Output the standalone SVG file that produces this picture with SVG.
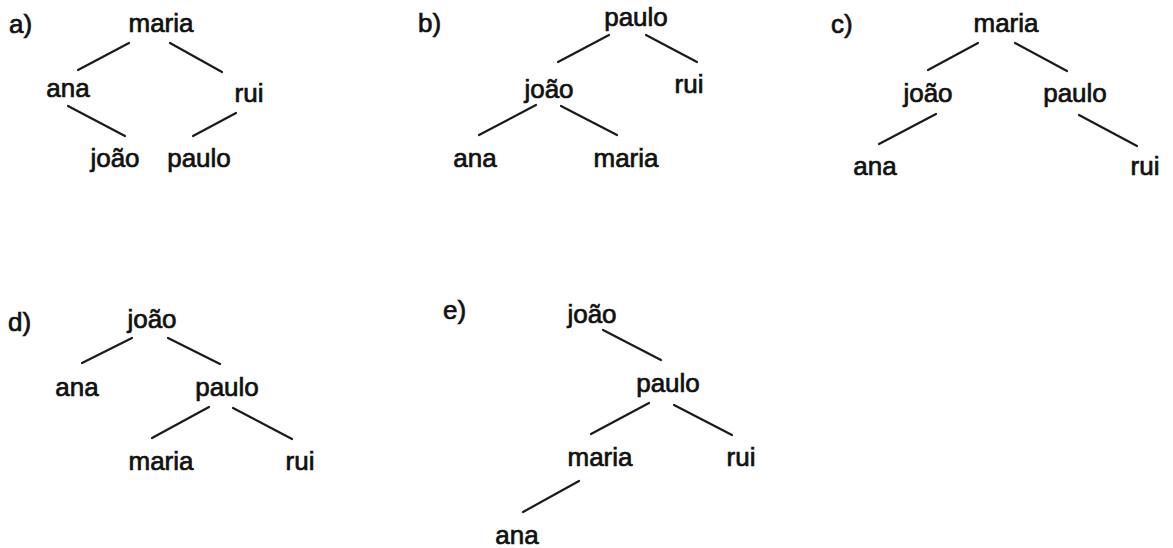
<svg xmlns="http://www.w3.org/2000/svg" width="1173" height="548" viewBox="0 0 1173 548">
  <style>
    text { font-family: "Liberation Sans", Arial, sans-serif; font-size: 26px; fill: #111; stroke: #111; stroke-width: 0.7px; }
    .n { text-anchor: middle; }
    .edges line { stroke: #1a1a1a; stroke-width: 2.2; stroke-linecap: round; }
  </style>
  <rect width="1173" height="548" fill="#ffffff"/>

  <!-- option labels -->
  <g id="labels">
    <text x="9" y="33">a)</text>
    <text x="418" y="32">b)</text>
    <text x="831" y="33">c)</text>
    <text x="8" y="331">d)</text>
    <text x="443" y="319">e)</text>
  </g>

  <!-- tree a -->
  <g id="a-maria"><text class="n" x="161" y="32">maria</text></g>
  <g id="a-ana"><text class="n" x="68" y="97">ana</text></g>
  <g id="a-rui"><text class="n" x="249" y="102">rui</text></g>
  <g id="a-joao"><text class="n" x="115" y="167">joão</text></g>
  <g id="a-paulo"><text class="n" x="199" y="167">paulo</text></g>

  <!-- tree b -->
  <g id="b-paulo"><text class="n" x="636" y="26">paulo</text></g>
  <g id="b-joao"><text class="n" x="549" y="98">joão</text></g>
  <g id="b-rui"><text class="n" x="689" y="93">rui</text></g>
  <g id="b-ana"><text class="n" x="475" y="167">ana</text></g>
  <g id="b-maria"><text class="n" x="626" y="167">maria</text></g>

  <!-- tree c -->
  <g id="c-maria"><text class="n" x="1006" y="32">maria</text></g>
  <g id="c-joao"><text class="n" x="928" y="102">joão</text></g>
  <g id="c-paulo"><text class="n" x="1075" y="102">paulo</text></g>
  <g id="c-ana"><text class="n" x="875" y="175">ana</text></g>
  <g id="c-rui"><text class="n" x="1145" y="175">rui</text></g>

  <!-- tree d -->
  <g id="d-joao"><text class="n" x="152" y="328">joão</text></g>
  <g id="d-ana"><text class="n" x="77" y="396">ana</text></g>
  <g id="d-paulo"><text class="n" x="227" y="396">paulo</text></g>
  <g id="d-maria"><text class="n" x="161" y="470">maria</text></g>
  <g id="d-rui"><text class="n" x="300" y="470">rui</text></g>

  <!-- tree e -->
  <g id="e-joao"><text class="n" x="592" y="323">joão</text></g>
  <g id="e-paulo"><text class="n" x="668" y="392">paulo</text></g>
  <g id="e-maria"><text class="n" x="600" y="466">maria</text></g>
  <g id="e-rui"><text class="n" x="741" y="466">rui</text></g>
  <g id="e-ana"><text class="n" x="517" y="544">ana</text></g>

  <!-- edges -->
  <g class="edges">
    <line x1="129" y1="43" x2="78" y2="70"/>
    <line x1="170" y1="43" x2="222" y2="72"/>
    <line x1="68" y1="106" x2="125" y2="136"/>
    <line x1="236" y1="113" x2="193" y2="136"/>

    <line x1="609" y1="35" x2="558" y2="62"/>
    <line x1="646" y1="35" x2="697" y2="62"/>
    <line x1="536" y1="105" x2="479" y2="135"/>
    <line x1="561" y1="106" x2="617" y2="135"/>

    <line x1="978" y1="43" x2="928" y2="70"/>
    <line x1="1015" y1="43" x2="1067" y2="71"/>
    <line x1="936" y1="114" x2="879" y2="144"/>
    <line x1="1079" y1="115" x2="1137" y2="146"/>

    <line x1="132" y1="338" x2="82" y2="363"/>
    <line x1="168" y1="338" x2="220" y2="364"/>
    <line x1="209" y1="407" x2="152" y2="438"/>
    <line x1="233" y1="408" x2="292" y2="439"/>

    <line x1="603" y1="330" x2="661" y2="360"/>
    <line x1="649" y1="403" x2="591" y2="434"/>
    <line x1="674" y1="405" x2="732" y2="435"/>
    <line x1="579" y1="481" x2="523" y2="512"/>
  </g>
</svg>
